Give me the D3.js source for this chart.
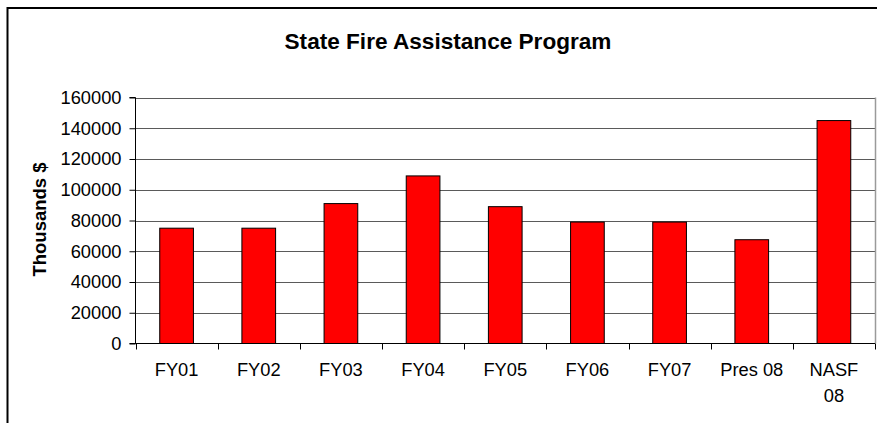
<!DOCTYPE html>
<html>
<head>
<meta charset="utf-8">
<script src="https://cdn.jsdelivr.net/npm/d3@7"></script>
<style>
  html, body { margin: 0; padding: 0; background: #fff; }
  svg { display: block; font-family: "Liberation Sans", Arial, sans-serif; }
</style>
</head>
<body>
<svg id="chart" width="877" height="423"></svg>
<script>
const categories = ["FY01", "FY02", "FY03", "FY04", "FY05", "FY06", "FY07", "Pres 08", "NASF 08"];
const categoryLines = [["FY01"], ["FY02"], ["FY03"], ["FY04"], ["FY05"], ["FY06"], ["FY07"], ["Pres 08"], ["NASF", "08"]];
const values = [75000, 75000, 91000, 109000, 89000, 79000, 79000, 67500, 145000];
const yTicks = [0, 20000, 40000, 60000, 80000, 100000, 120000, 140000, 160000];
const chartTitle = "State Fire Assistance Program";
const yTitle = "Thousands $";

const svg = d3.select("#chart");
const W = 877, H = 423;
const plot = { left: 135.5, right: 875, top: 97.5, bottom: 343.5 };

// outer frame
svg.append("path")
  .attr("d", `M7.5,${H + 5} L7.5,8 L${W + 5},8`)
  .attr("fill", "none").attr("stroke", "#000").attr("stroke-width", 2);

const x = d3.scaleBand().domain(categories).range([plot.left, plot.right]).padding(0);
const y = d3.scaleLinear().domain([0, 160000]).range([plot.bottom, plot.top]);

// gridlines
svg.append("g").selectAll("line").data(yTicks.filter(d => d > 0)).join("line")
  .attr("x1", plot.left).attr("x2", plot.right)
  .attr("y1", d => Math.round(y(d)) + 0.5).attr("y2", d => Math.round(y(d)) + 0.5)
  .attr("stroke", "#5a5a5a").attr("stroke-width", 1);

// plot area border (right)
svg.append("line")
  .attr("x1", plot.right + 0.5).attr("x2", plot.right + 0.5)
  .attr("y1", plot.top).attr("y2", plot.bottom)
  .attr("stroke", "#9a9a9a").attr("stroke-width", 1.5);

// bars
const barFrac = 0.41;
svg.append("g").selectAll("rect").data(values).join("rect")
  .attr("x", (d, i) => x(categories[i]) + x.bandwidth() * (1 - barFrac) / 2)
  .attr("width", x.bandwidth() * barFrac)
  .attr("y", d => y(d))
  .attr("height", d => y(0) - y(d))
  .attr("fill", "#ff0000").attr("stroke", "#000").attr("stroke-width", 1);

// y axis
const yAxis = d3.axisLeft(y).tickValues(yTicks).tickSize(6).tickPadding(8).tickFormat(d3.format("d"));
const gy = svg.append("g").attr("transform", `translate(${plot.left},0)`).call(yAxis);
gy.select(".domain").attr("stroke", "#000").attr("d", `M-6,${plot.top}H0V${plot.bottom}`);
gy.selectAll(".tick line").attr("stroke", "#000");
gy.selectAll(".tick text").attr("font-size", 18.3).attr("fill", "#000")
  .attr("font-family", "Liberation Sans, Arial, sans-serif");

// x axis: line + boundary ticks
const gx = svg.append("g");
gx.append("line").attr("x1", plot.left - 6).attr("x2", plot.right)
  .attr("y1", plot.bottom).attr("y2", plot.bottom).attr("stroke", "#000");
const bounds = categories.map(c => x(c)).concat([plot.right]);
gx.selectAll("line.tk").data(bounds).join("line").attr("class", "tk")
  .attr("x1", d => Math.round(d) + 0.5).attr("x2", d => Math.round(d) + 0.5)
  .attr("y1", plot.bottom).attr("y2", plot.bottom + 6).attr("stroke", "#000");
const lbl = gx.selectAll("text").data(categoryLines).join("text")
  .attr("text-anchor", "middle").attr("font-size", 18.3).attr("fill", "#000")
  .attr("x", (d, i) => x(categories[i]) + x.bandwidth() / 2)
  .attr("y", 376);
lbl.selectAll("tspan").data(d => d).join("tspan")
  .attr("x", function () { return d3.select(this.parentNode).attr("x"); })
  .attr("dy", (d, i) => i === 0 ? 0 : 25.5)
  .text(d => d);

// title
svg.append("text").attr("x", 448).attr("y", 48.5).attr("text-anchor", "middle")
  .attr("font-size", 22.6).attr("font-weight", "bold").attr("fill", "#000").text(chartTitle);

// y title
svg.append("text").attr("transform", "translate(46,219.5) rotate(-90)")
  .attr("text-anchor", "middle").attr("font-size", 18.5).attr("font-weight", "bold")
  .attr("fill", "#000").text(yTitle);
</script>
</body>
</html>
